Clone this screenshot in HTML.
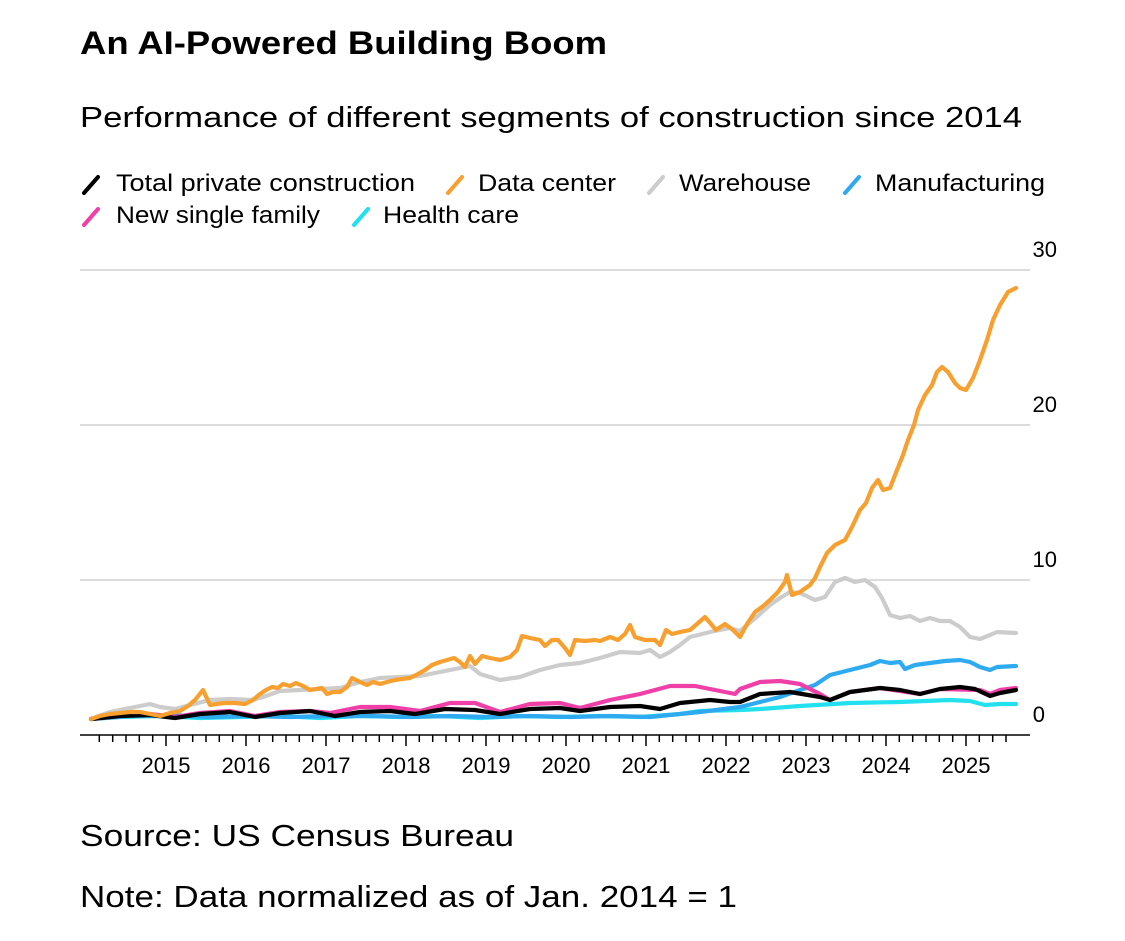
<!DOCTYPE html>
<html><head><meta charset="utf-8"><style>
html,body{margin:0;padding:0;background:#fff;}
svg{display:block;font-family:"Liberation Sans",Arial,sans-serif;}
</style></head><body>
<svg width="1125" height="941" viewBox="0 0 1125 941" xmlns="http://www.w3.org/2000/svg">
<rect width="1125" height="941" fill="#fff"/>
<text x="80" y="54" font-size="32" font-weight="bold" fill="#000" textLength="527" lengthAdjust="spacingAndGlyphs">An AI-Powered Building Boom</text>
<text x="80" y="127" font-size="29" fill="#000" textLength="942" lengthAdjust="spacingAndGlyphs">Performance of different segments of construction since 2014</text>
<g font-size="24" fill="#000" stroke-linecap="round" stroke-width="4" lengthAdjust="spacingAndGlyphs">
<line x1="84" y1="193" x2="98" y2="177" stroke="#000"/><text x="116" y="191" textLength="299" lengthAdjust="spacingAndGlyphs">Total private construction</text>
<line x1="448" y1="193" x2="462" y2="177" stroke="#f7a030"/><text x="478" y="191" textLength="138" lengthAdjust="spacingAndGlyphs">Data center</text>
<line x1="649" y1="193" x2="663" y2="177" stroke="#cccccc"/><text x="679" y="191" textLength="132" lengthAdjust="spacingAndGlyphs">Warehouse</text>
<line x1="845" y1="193" x2="859" y2="177" stroke="#2eaaf0"/><text x="875" y="191" textLength="170" lengthAdjust="spacingAndGlyphs">Manufacturing</text>
<line x1="84" y1="225" x2="98" y2="209" stroke="#f040a8"/><text x="116" y="223" textLength="204" lengthAdjust="spacingAndGlyphs">New single family</text>
<line x1="354" y1="225" x2="368" y2="209" stroke="#22e0ee"/><text x="383" y="223" textLength="136" lengthAdjust="spacingAndGlyphs">Health care</text>
</g>
<g stroke="#d0d0d0" stroke-width="1.5">
<line x1="80" y1="270" x2="1030" y2="270"/>
<line x1="80" y1="425" x2="1030" y2="425"/>
<line x1="80" y1="580" x2="1030" y2="580"/>
</g>
<g font-size="22" fill="#000" text-anchor="end">
<text x="1057" y="257">30</text>
<text x="1057" y="412">20</text>
<text x="1057" y="567">10</text>
<text x="1045" y="722">0</text>
</g>
<line x1="80" y1="735" x2="1030" y2="735" stroke="#000" stroke-width="1.5"/>
<path stroke="#000" stroke-width="1.5" fill="none" d="M99.3,735v7M112.7,735v7M126,735v7M139.3,735v7M152.7,735v7M166,735v11M179.3,735v7M192.7,735v7M206,735v7M219.3,735v7M232.7,735v7M246,735v11M259.3,735v7M272.7,735v7M286,735v7M299.3,735v7M312.7,735v7M326,735v11M339.3,735v7M352.7,735v7M366,735v7M379.3,735v7M392.7,735v7M406,735v11M419.3,735v7M432.7,735v7M446,735v7M459.3,735v7M472.7,735v7M486,735v11M499.3,735v7M512.7,735v7M526,735v7M539.3,735v7M552.7,735v7M566,735v11M579.3,735v7M592.7,735v7M606,735v7M619.3,735v7M632.7,735v7M646,735v11M659.3,735v7M672.7,735v7M686,735v7M699.3,735v7M712.7,735v7M726,735v11M739.3,735v7M752.7,735v7M766,735v7M779.3,735v7M792.7,735v7M806,735v11M819.3,735v7M832.7,735v7M846,735v7M859.3,735v7M872.7,735v7M886,735v11M899.3,735v7M912.7,735v7M926,735v7M939.3,735v7M952.7,735v7M966,735v11M979.3,735v7M992.7,735v7M1006,735v7"/>
<g font-size="22" fill="#000" text-anchor="middle">
<text x="166" y="773">2015</text><text x="246" y="773">2016</text><text x="326" y="773">2017</text>
<text x="406" y="773">2018</text><text x="486" y="773">2019</text><text x="566" y="773">2020</text>
<text x="646" y="773">2021</text><text x="726" y="773">2022</text><text x="806" y="773">2023</text>
<text x="886" y="773">2024</text><text x="966" y="773">2025</text>
</g>
<g fill="none" stroke-width="4.2" stroke-linejoin="round" stroke-linecap="round">
<polyline stroke="#cccccc" points="91,719 110,712 130,708 150,704 160,707 175,709 190,705 210,700 230,699 250,700 260,698 280,691 300,690 320,689 340,688 360,682 380,678 400,677 420,676 440,672 460,668 470,666 480,674 500,680 520,677 540,670 560,665 580,663 600,658 620,652 640,653 650,650 660,657 670,652 680,645 690,637 710,632 730,628 740,631 760,614 770,605 780,598 790,592 800,593 815,600 825,597 835,582 845,578 855,582 865,580 875,587 882,598 890,615 900,618 910,616 920,621 930,618 940,621 950,621 960,627 970,637 980,639 990,635 997,632 1016,633"/>
<polyline stroke="#22e0ee" points="91,719 120,717 160,716 200,718 240,717 280,716 320,718 360,716 400,717 440,716 480,718 520,716 560,717 600,716 640,717 680,714 700,711 740,710 760,709 800,706 850,703 900,702 950,700 970,701 985,705 1000,704 1016,704"/>
<polyline stroke="#2eaaf0" points="91,719 130,716 170,715 210,717 250,716 290,717 330,716 370,716 410,717 450,716 490,717 530,716 570,717 610,716 650,717 700,712 740,707 760,702 780,697 800,690 815,685 830,675 850,670 870,665 880,661 890,663 900,662 905,669 915,665 930,663 945,661 960,660 970,662 980,667 990,670 997,667 1016,666"/>
<polyline stroke="#f040a8" points="91,719 120,716 150,714 175,717 200,713 230,711 255,716 280,712 310,711 330,713 360,707 390,707 420,711 450,703 475,703 500,712 530,704 560,703 580,708 610,700 640,694 670,686 695,686 715,690 735,694 740,689 760,682 780,681 800,684 820,694 830,700 850,692 880,688 920,694 940,689 980,690 990,694 1000,690 1016,688"/>
<polyline stroke="#000" points="91,719 120,716 150,715 175,718 200,714 230,712 255,717 280,713 310,711 335,716 360,712 390,711 415,714 445,709 475,710 500,714 530,709 560,708 580,711 610,707 640,706 660,709 680,703 710,700 730,702 740,702 760,694 790,692 820,697 830,700 850,692 880,688 900,690 920,694 940,689 960,687 975,689 990,696 1000,693 1016,690"/>
<polyline stroke="#f7a030" points="91,719 100,716 110,714 120,713 130,712 140,712 150,714 160,716 170,713 180,711 188,706 195,700 203,690 210,705 216,704 225,703 235,703 245,704 253,700 260,694 266,690 272,687 278,688 283,684 290,686 296,683 303,686 310,690 316,689 322,688 327,694 333,692 340,692 347,687 352,678 360,682 367,685 373,682 380,684 387,682 395,680 402,679 410,678 418,674 425,670 432,665 440,662 447,660 454,658 460,662 465,667 470,656 475,664 482,656 490,658 500,660 510,657 517,650 522,636 530,638 540,640 545,646 552,640 558,640 565,648 570,655 575,640 585,641 595,640 600,641 610,637 618,640 625,634 630,625 635,637 645,640 655,640 660,645 666,630 672,634 680,632 690,630 697,624 705,617 711,624 716,630 725,624 733,630 740,637 747,624 755,612 762,607 770,600 778,592 785,582 787,575 792,595 800,592 810,585 815,578 820,567 827,553 835,545 845,540 852,527 860,510 866,503 872,488 878,480 883,490 890,488 897,470 903,455 908,440 914,425 918,410 925,395 932,385 937,372 942,367 948,372 955,383 960,388 966,390 973,378 980,360 987,340 993,320 1000,305 1008,292 1016,288"/>
</g>
<text x="80" y="846" font-size="31" fill="#000" textLength="434" lengthAdjust="spacingAndGlyphs">Source: US Census Bureau</text>
<text x="80" y="907" font-size="31" fill="#000" textLength="657" lengthAdjust="spacingAndGlyphs">Note: Data normalized as of Jan. 2014 = 1</text>
</svg>
</body></html>
